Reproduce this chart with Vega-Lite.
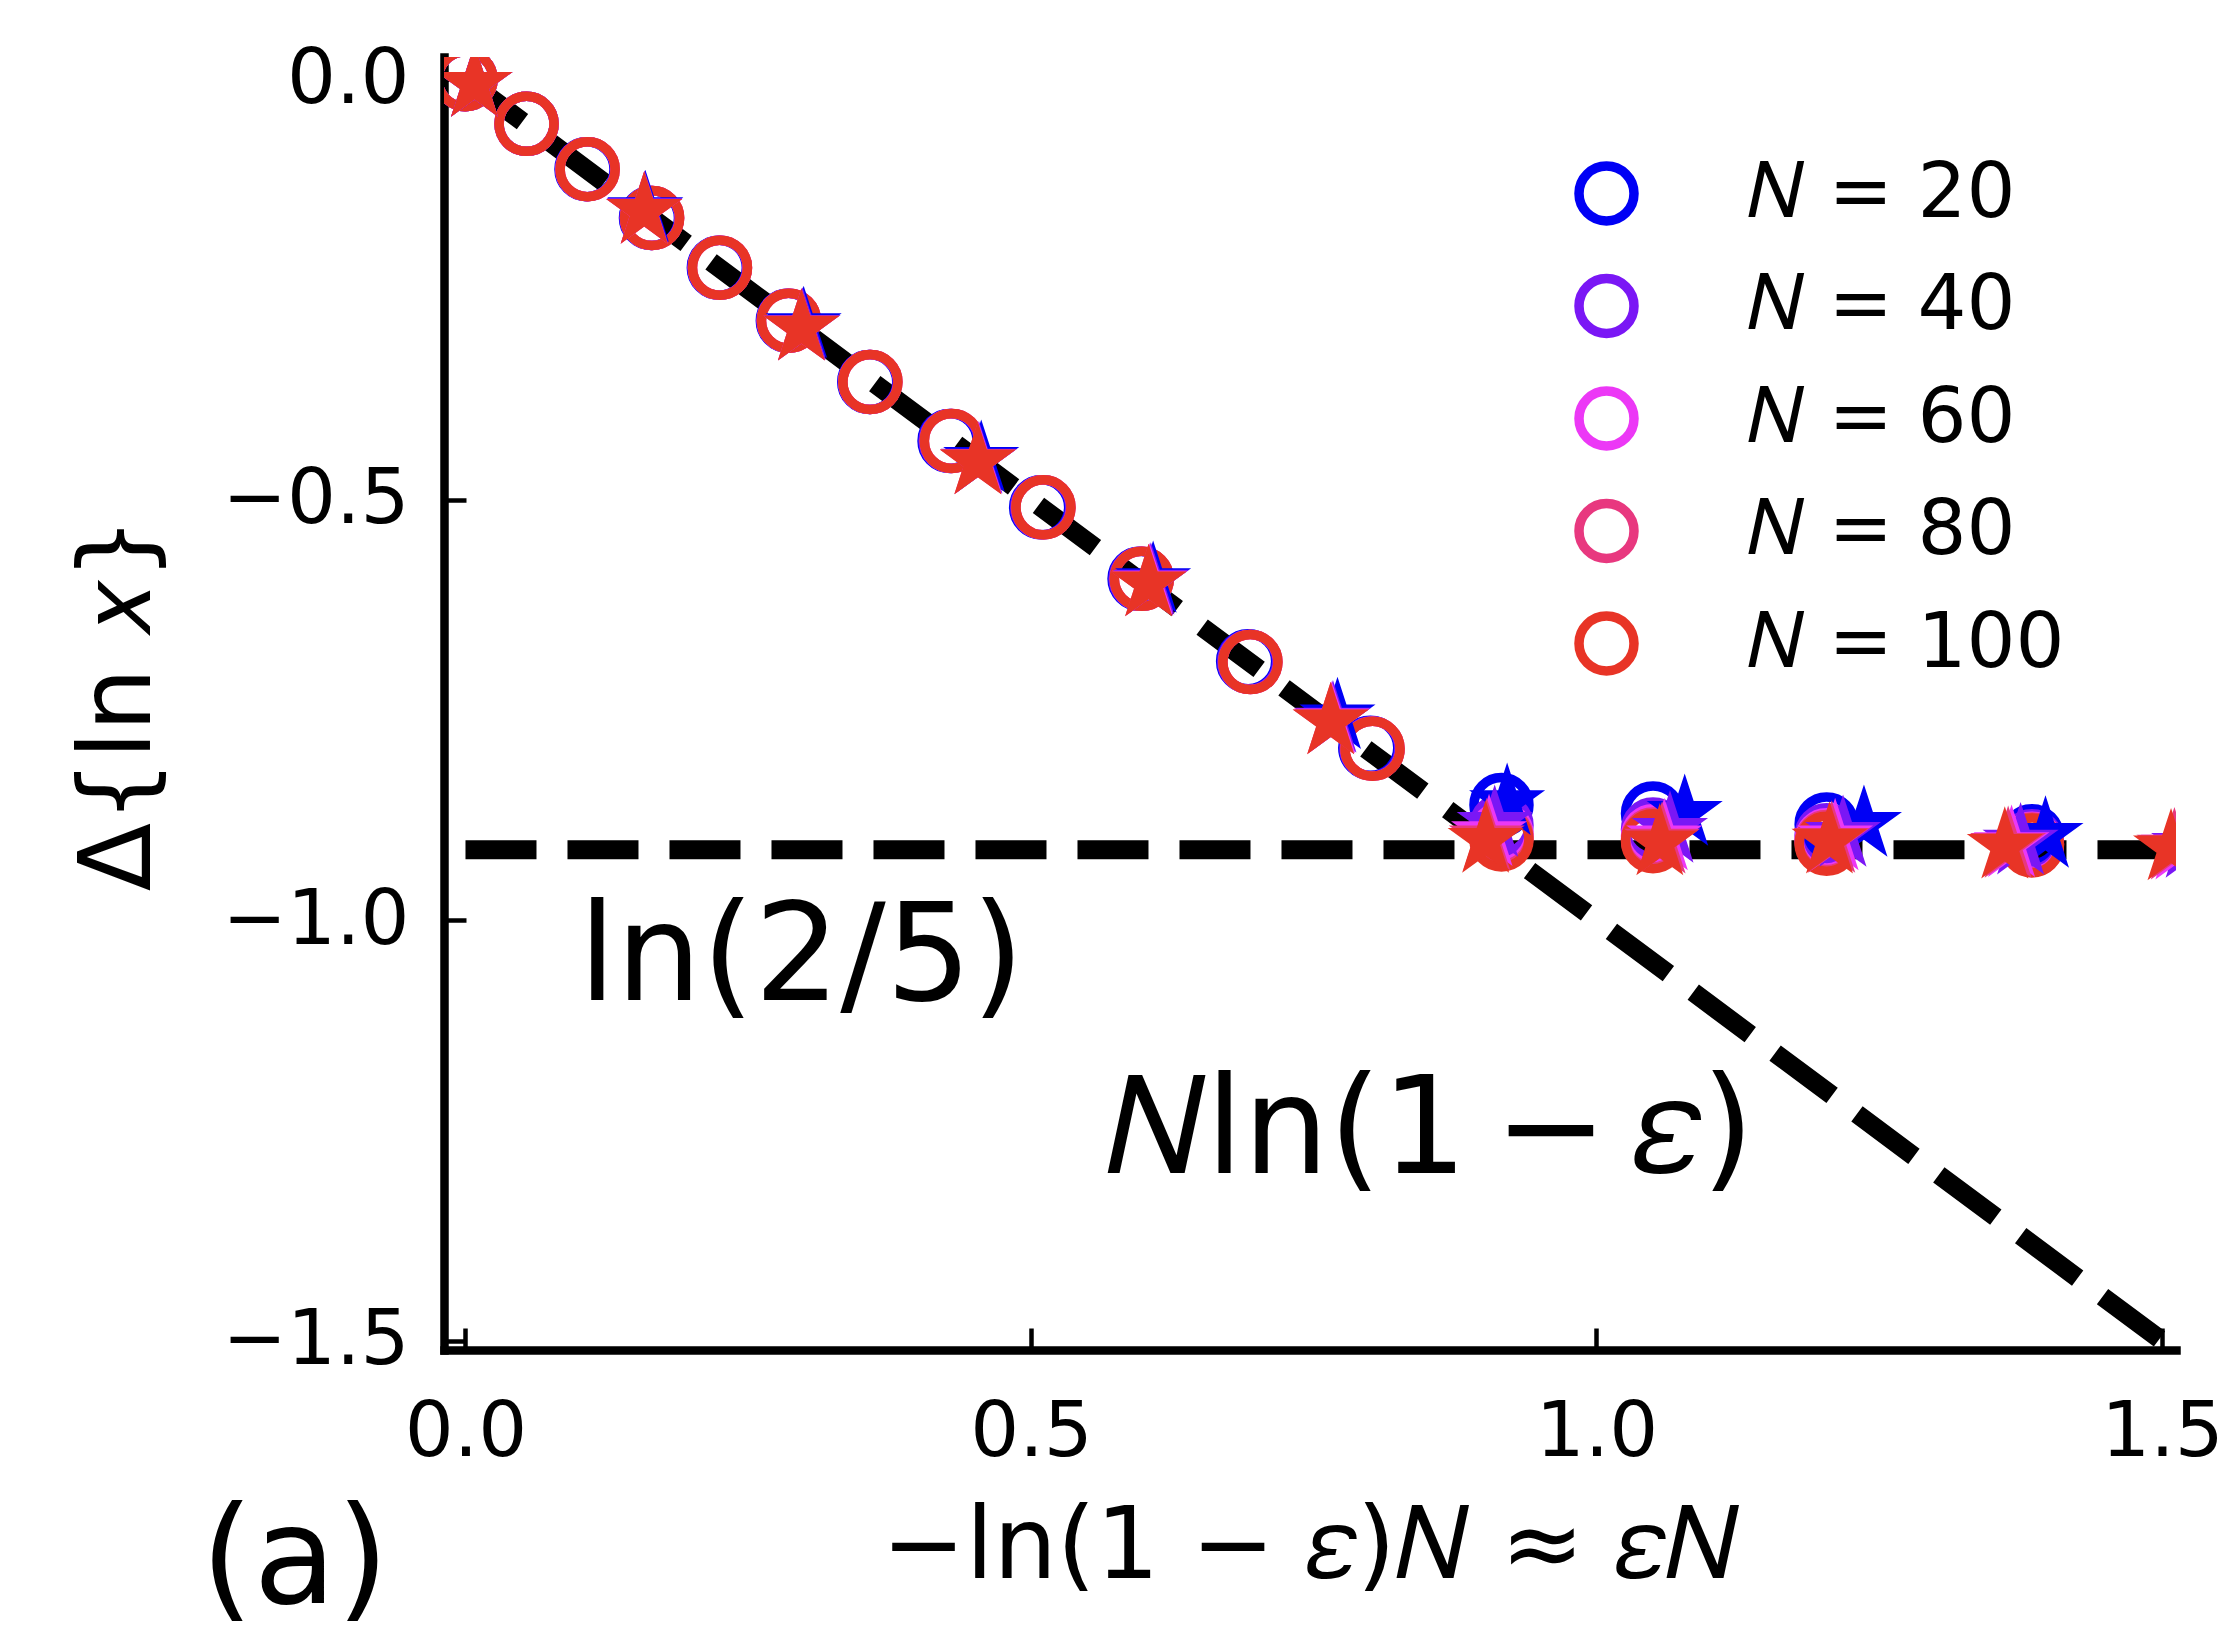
{
  "$schema": "https://vega.github.io/schema/vega-lite/v6.json",
  "width": 1732,
  "height": 1293,
  "autosize": {"type": "none"},
  "padding": {"left": 444, "top": 57, "right": 62, "bottom": 286},
  "config": {
    "view": {"stroke": null},
    "font": "DejaVu Sans",
    "axis": {
      "grid": false,
      "domainColor": "black",
      "domainWidth": 8.5,
      "domainCap": "square",
      "tickColor": "black",
      "tickWidth": 4.5,
      "tickSize": -22,
      "labelColor": "black",
      "labelFont": "DejaVu Sans",
      "labelFontSize": 77,
      "labelLimit": 400,
      "labelFlush": false,
      "labelOverlap": false,
      "titleFont": "DejaVu Sans",
      "titleFontSize": 100,
      "titleFontWeight": "normal",
      "titleColor": "black",
      "titleLimit": 1500
    }
  },
  "datasets": {
    "lines": [
      {"line": "diag", "x": 0, "y": 0},
      {"line": "diag", "x": 1.5, "y": -1.5},
      {"line": "sat", "x": 0, "y": -0.9163},
      {"line": "sat", "x": 1.5, "y": -0.9163}
    ],
    "circles": [
      {"N": "20", "x": 0, "y": 0}, {"N": "20", "x": 0.054, "y": -0.053}, {"N": "20", "x": 0.107, "y": -0.107},
      {"N": "20", "x": 0.164, "y": -0.165}, {"N": "20", "x": 0.224, "y": -0.224}, {"N": "20", "x": 0.285, "y": -0.287},
      {"N": "20", "x": 0.357, "y": -0.36}, {"N": "20", "x": 0.428, "y": -0.43}, {"N": "20", "x": 0.509, "y": -0.509},
      {"N": "20", "x": 0.596, "y": -0.594}, {"N": "20", "x": 0.692, "y": -0.692}, {"N": "20", "x": 0.8, "y": -0.795},
      {"N": "20", "x": 0.916, "y": -0.863}, {"N": "20", "x": 1.05, "y": -0.873}, {"N": "20", "x": 1.2035, "y": -0.886},
      {"N": "20", "x": 1.385, "y": -0.9},
      {"N": "40", "x": 0, "y": 0}, {"N": "40", "x": 0.054, "y": -0.053}, {"N": "40", "x": 0.1075, "y": -0.107},
      {"N": "40", "x": 0.1645, "y": -0.165}, {"N": "40", "x": 0.2245, "y": -0.224}, {"N": "40", "x": 0.2855, "y": -0.287},
      {"N": "40", "x": 0.3575, "y": -0.36}, {"N": "40", "x": 0.429, "y": -0.43}, {"N": "40", "x": 0.51, "y": -0.509},
      {"N": "40", "x": 0.597, "y": -0.594}, {"N": "40", "x": 0.693, "y": -0.6925}, {"N": "40", "x": 0.801, "y": -0.7955},
      {"N": "40", "x": 0.916, "y": -0.887}, {"N": "40", "x": 1.05, "y": -0.892}, {"N": "40", "x": 1.2035, "y": -0.899},
      {"N": "40", "x": 1.385, "y": -0.906},
      {"N": "60", "x": 0, "y": 0}, {"N": "60", "x": 0.054, "y": -0.053}, {"N": "60", "x": 0.108, "y": -0.107},
      {"N": "60", "x": 0.165, "y": -0.165}, {"N": "60", "x": 0.225, "y": -0.224}, {"N": "60", "x": 0.286, "y": -0.287},
      {"N": "60", "x": 0.358, "y": -0.36}, {"N": "60", "x": 0.43, "y": -0.43}, {"N": "60", "x": 0.511, "y": -0.509},
      {"N": "60", "x": 0.598, "y": -0.594}, {"N": "60", "x": 0.694, "y": -0.693}, {"N": "60", "x": 0.802, "y": -0.796},
      {"N": "60", "x": 0.916, "y": -0.897}, {"N": "60", "x": 1.05, "y": -0.9}, {"N": "60", "x": 1.2035, "y": -0.905},
      {"N": "60", "x": 1.385, "y": -0.909},
      {"N": "80", "x": 0, "y": 0}, {"N": "80", "x": 0.054, "y": -0.053}, {"N": "80", "x": 0.108, "y": -0.107},
      {"N": "80", "x": 0.165, "y": -0.165}, {"N": "80", "x": 0.225, "y": -0.224}, {"N": "80", "x": 0.286, "y": -0.287},
      {"N": "80", "x": 0.358, "y": -0.36}, {"N": "80", "x": 0.43, "y": -0.43}, {"N": "80", "x": 0.511, "y": -0.509},
      {"N": "80", "x": 0.598, "y": -0.594}, {"N": "80", "x": 0.694, "y": -0.693}, {"N": "80", "x": 0.802, "y": -0.796},
      {"N": "80", "x": 0.916, "y": -0.901}, {"N": "80", "x": 1.05, "y": -0.904}, {"N": "80", "x": 1.2035, "y": -0.907},
      {"N": "80", "x": 1.385, "y": -0.91},
      {"N": "100", "x": 0, "y": 0}, {"N": "100", "x": 0.054, "y": -0.053}, {"N": "100", "x": 0.108, "y": -0.107},
      {"N": "100", "x": 0.165, "y": -0.165}, {"N": "100", "x": 0.225, "y": -0.224}, {"N": "100", "x": 0.286, "y": -0.287},
      {"N": "100", "x": 0.358, "y": -0.36}, {"N": "100", "x": 0.43, "y": -0.43}, {"N": "100", "x": 0.511, "y": -0.509},
      {"N": "100", "x": 0.598, "y": -0.594}, {"N": "100", "x": 0.694, "y": -0.693}, {"N": "100", "x": 0.802, "y": -0.796},
      {"N": "100", "x": 0.916, "y": -0.904}, {"N": "100", "x": 1.05, "y": -0.906}, {"N": "100", "x": 1.2035, "y": -0.909},
      {"N": "100", "x": 1.385, "y": -0.911}
    ],
    "stars": [
      {"N": "20", "x": 0.008, "y": -0.006}, {"N": "20", "x": 0.159, "y": -0.155}, {"N": "20", "x": 0.299, "y": -0.293},
      {"N": "20", "x": 0.456, "y": -0.452}, {"N": "20", "x": 0.608, "y": -0.596}, {"N": "20", "x": 0.771, "y": -0.758},
      {"N": "20", "x": 0.921, "y": -0.86}, {"N": "20", "x": 1.078, "y": -0.873}, {"N": "20", "x": 1.2365, "y": -0.886},
      {"N": "20", "x": 1.397, "y": -0.899}, {"N": "20", "x": 1.548, "y": -0.906},
      {"N": "40", "x": 0.008, "y": -0.006}, {"N": "40", "x": 0.1584, "y": -0.156}, {"N": "40", "x": 0.298, "y": -0.295},
      {"N": "40", "x": 0.454, "y": -0.454}, {"N": "40", "x": 0.606, "y": -0.598}, {"N": "40", "x": 0.767, "y": -0.762},
      {"N": "40", "x": 0.91, "y": -0.886}, {"N": "40", "x": 1.065, "y": -0.893}, {"N": "40", "x": 1.218, "y": -0.898},
      {"N": "40", "x": 1.375, "y": -0.907}, {"N": "40", "x": 1.524, "y": -0.911},
      {"N": "60", "x": 0.008, "y": -0.006}, {"N": "60", "x": 0.158, "y": -0.157}, {"N": "60", "x": 0.297, "y": -0.296},
      {"N": "60", "x": 0.4535, "y": -0.4545}, {"N": "60", "x": 0.605, "y": -0.599}, {"N": "60", "x": 0.766, "y": -0.763},
      {"N": "60", "x": 0.905, "y": -0.897}, {"N": "60", "x": 1.06, "y": -0.902}, {"N": "60", "x": 1.211, "y": -0.902},
      {"N": "60", "x": 1.367, "y": -0.91}, {"N": "60", "x": 1.515, "y": -0.913},
      {"N": "80", "x": 0.008, "y": -0.006}, {"N": "80", "x": 0.158, "y": -0.157}, {"N": "80", "x": 0.297, "y": -0.296},
      {"N": "80", "x": 0.453, "y": -0.455}, {"N": "80", "x": 0.604, "y": -0.6}, {"N": "80", "x": 0.765, "y": -0.764},
      {"N": "80", "x": 0.903, "y": -0.902}, {"N": "80", "x": 1.058, "y": -0.906}, {"N": "80", "x": 1.208, "y": -0.905},
      {"N": "80", "x": 1.364, "y": -0.911}, {"N": "80", "x": 1.511, "y": -0.913},
      {"N": "100", "x": 0.008, "y": -0.006}, {"N": "100", "x": 0.158, "y": -0.157}, {"N": "100", "x": 0.297, "y": -0.296},
      {"N": "100", "x": 0.453, "y": -0.455}, {"N": "100", "x": 0.604, "y": -0.6}, {"N": "100", "x": 0.765, "y": -0.764},
      {"N": "100", "x": 0.902, "y": -0.905}, {"N": "100", "x": 1.056, "y": -0.908}, {"N": "100", "x": 1.206, "y": -0.906},
      {"N": "100", "x": 1.361, "y": -0.912}, {"N": "100", "x": 1.508, "y": -0.914}
    ],
    "notes": [
      {"label": "ln(2/5)", "x": 0.1, "y": -1.095},
      {"label": "𝑁ln(1\u2009−\u2009𝜀)", "x": 0.567, "y": -1.301},
      {"label": "(a)", "x": -0.234, "y": -1.812}
    ]
  },
  "encoding": {
    "x": {
      "field": "x",
      "type": "quantitative",
      "scale": {"domain": [-0.019, 1.5124], "nice": false, "zero": false},
      "axis": {
        "values": [0, 0.5, 1, 1.5],
        "format": ".1f",
        "labelPadding": 66,
        "title": "−ln(1 − 𝜀)𝑁 ≈ 𝜀𝑁",
        "titlePadding": 28
      }
    },
    "y": {
      "field": "y",
      "type": "quantitative",
      "scale": {"domain": [-1.511, 0.0265], "nice": false, "zero": false},
      "axis": {
        "values": [0, -0.5, -1, -1.5],
        "format": ".1f",
        "labelPadding": 57,
        "title": "Δ{ln 𝑥}",
        "titlePadding": 74
      }
    }
  },
  "layer": [
    {
      "data": {"name": "lines"},
      "mark": {"type": "line", "color": "black", "strokeWidth": 19, "strokeDash": [71, 31], "clip": true},
      "encoding": {"detail": {"field": "line", "type": "nominal"}}
    },
    {
      "data": {"name": "circles"},
      "mark": {"type": "point", "shape": "circle", "filled": false, "strokeWidth": 9.5, "size": 3025, "opacity": 1, "clip": true},
      "encoding": {
        "color": {
          "field": "N",
          "type": "nominal",
          "scale": {"domain": ["20", "40", "60", "80", "100"], "range": ["#0000f5", "#7a17f5", "#ec38f6", "#e8387f", "#e83426"]},
          "legend": {
            "orient": "none",
            "legendX": 1124,
            "legendY": 98,
            "title": null,
            "padding": 0,
            "symbolType": "circle",
            "symbolSize": 3025,
            "symbolStrokeWidth": 9.5,
            "labelFont": "DejaVu Sans",
            "labelFontSize": 77,
            "labelColor": "black",
            "labelOffset": 103,
            "labelLimit": 600,
            "rowPadding": 19.5,
            "labelExpr": "'𝑁 = ' + datum.label"
          }
        }
      }
    },
    {
      "data": {"name": "stars"},
      "mark": {
        "type": "point",
        "shape": "M0,-1L0.2245,-0.309L0.951,-0.309L0.3633,0.118L0.588,0.809L0,0.382L-0.588,0.809L-0.3633,0.118L-0.951,-0.309L-0.2245,-0.309Z",
        "filled": true,
        "size": 6400,
        "opacity": 1,
        "clip": true
      },
      "encoding": {
        "color": {
          "field": "N",
          "type": "nominal",
          "scale": {"domain": ["20", "40", "60", "80", "100"], "range": ["#0000f5", "#7a17f5", "#ec38f6", "#e8387f", "#e83426"]},
          "legend": null
        }
      }
    },
    {
      "data": {"name": "notes"},
      "mark": {"type": "text", "align": "left", "baseline": "alphabetic", "fontSize": 135, "font": "DejaVu Sans", "color": "black"},
      "encoding": {"text": {"field": "label"}}
    }
  ],
  "resolve": {"scale": {"color": "independent"}, "legend": {"color": "independent"}}
}
